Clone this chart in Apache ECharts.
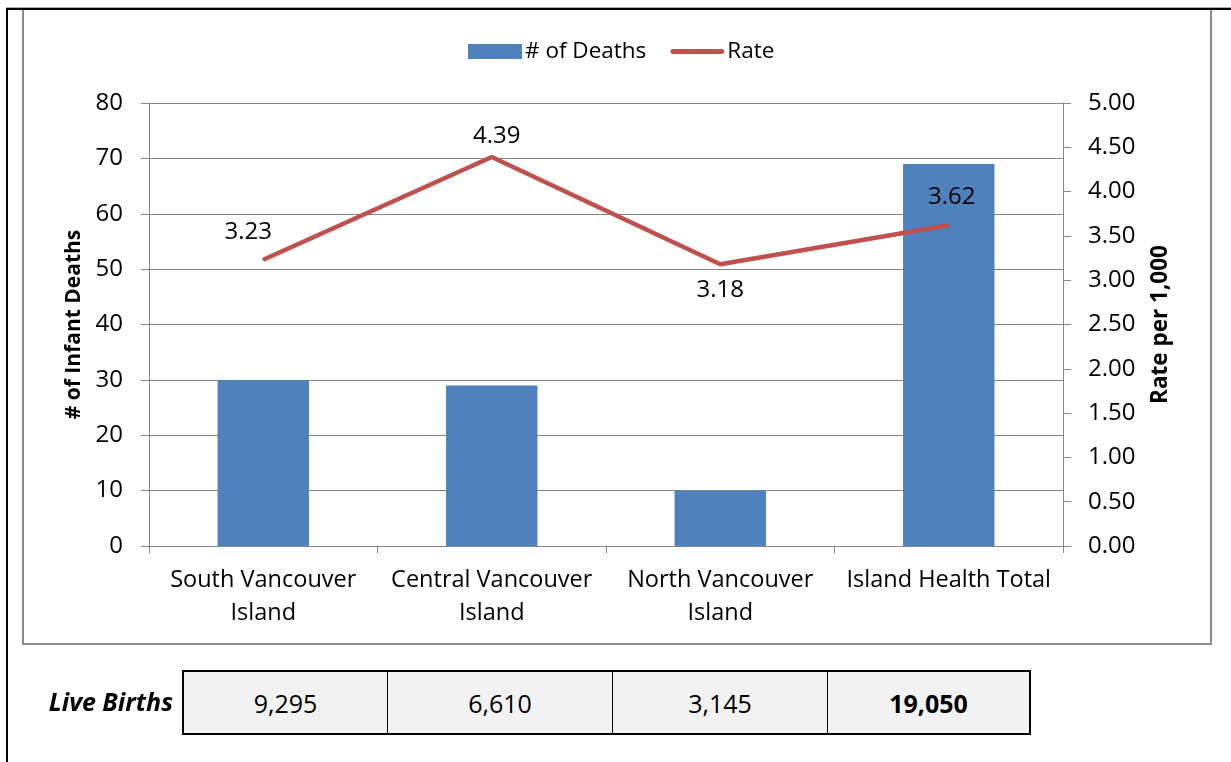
<!DOCTYPE html>
<html>
<head>
<meta charset="utf-8">
<script src="https://cdn.jsdelivr.net/npm/echarts@6/dist/echarts.min.js"></script>
<style>
  html, body { margin: 0; padding: 0; background: #fff; }
  body { width: 1231px; height: 762px; position: relative; overflow: hidden; font-family: 'Open Sans', sans-serif; }
  .line-top { position: absolute; left: 6px; top: 8px; width: 1225px; height: 2px; background: #000; }
  .line-top-gray { position: absolute; left: 6px; top: 7px; width: 1225px; height: 1px; background: #aaa; }
  .line-left { position: absolute; left: 6px; top: 8px; width: 2px; height: 754px; background: #000; }
  .chart-box { position: absolute; left: 22px; top: 10px; width: 1186px; height: 633px; border: 2px solid #8c8c8c; border-top: none; }
  #chart { position: absolute; left: 0; top: 0; width: 1231px; height: 762px; }
  .births-label { position: absolute; left: 10px; top: 684px; width: 163px; text-align: right; font-weight: bold; font-style: italic; font-size: 25px; line-height: 34px; }
  table.births { position: absolute; left: 182px; top: 670px; border-collapse: collapse; }
  table.births td { height: 61px; background: #f2f2f2; border: 1.5px solid #000; text-align: center; font-size: 25px; padding: 0; }
  table.births tr td { border-top: 2.5px solid #000; border-bottom: 2.5px solid #000; }
  table.births td:first-child { border-left: 2.5px solid #000; }
  table.births td:last-child { border-right: 2.5px solid #000; font-weight: bold; }
</style>
</head>
<body>
<div class="line-top-gray"></div>
<div class="line-top"></div>
<div class="line-left"></div>
<div class="chart-box"></div>
<div id="chart"></div>
<div class="births-label">Live Births</div>
<table class="births"><tr id="births_row"></tr></table>

<script>
var regions = ['South Vancouver\nIsland', 'Central Vancouver\nIsland', 'North Vancouver\nIsland', 'Island Health Total']
var deaths = [30, 29, 10, 69]
var rates = [3.23, 4.39, 3.18, 3.62]
var liveBirths = ['9,295', '6,610', '3,145', '19,050']
var cellWidths = [203, 224, 214, 201]

// label nudges so the numbers sit where the original put them
var labelOffsets = [[-15, -28], [5, -21], [0, 26], [3, -28]]

var FONT = 'Open Sans'
var GRID_GRAY = '#868686'

// live births row under the chart
var row = document.getElementById('births_row')
liveBirths.forEach(function(v, i) {
  var td = document.createElement('td')
  td.style.width = cellWidths[i] + 'px'
  td.textContent = v
  row.appendChild(td)
})

var myChart = echarts.init(document.getElementById('chart'), null, { renderer: 'canvas' })

var rateData = rates.map(function(r, i) {
  return {
    value: r,
    label: { offset: labelOffsets[i] }
  }
})

var option = {
  animation: false,
  textStyle: { fontFamily: FONT },
  legend: {
    left: 463,
    top: 35,
    itemWidth: 54,
    itemHeight: 15,
    itemGap: 24,
    textStyle: { fontFamily: FONT, fontSize: 22.5, color: '#000', padding: [0, 0, 0, -2] },
    data: [
      { name: '# of Deaths', icon: 'rect' },
      { name: 'Rate', icon: 'path://M2.5,0 L53.5,0 A2.5,2.5 0 0 1 53.5,5 L2.5,5 A2.5,2.5 0 0 1 2.5,0 Z' }
    ]
  },
  grid: {
    left: 149,
    right: 168,
    top: 103,
    bottom: 216
  },
  xAxis: {
    type: 'category',
    data: regions,
    axisLine: { lineStyle: { color: GRID_GRAY, width: 1 }},
    axisTick: { show: true, length: 7, lineStyle: { color: GRID_GRAY }},
    axisLabel: {
      color: '#000',
      fontFamily: FONT,
      fontSize: 23.5,
      lineHeight: 33,
      margin: 18,
      interval: 0
    }
  },
  yAxis: [
    {
      type: 'value',
      name: '# of Infant Deaths',
      nameLocation: 'middle',
      nameGap: 62,
      nameTextStyle: { fontFamily: FONT, fontSize: 21, fontWeight: 'bold', color: '#000' },
      min: 0,
      max: 80,
      interval: 10,
      axisLine: { show: true, lineStyle: { color: GRID_GRAY }},
      axisTick: { show: true, length: 8, lineStyle: { color: GRID_GRAY }},
      axisLabel: { color: '#000', fontFamily: FONT, fontSize: 24, margin: 26 },
      splitLine: { show: true, lineStyle: { color: GRID_GRAY, width: 1 }}
    },
    {
      type: 'value',
      name: 'Rate per 1,000',
      nameLocation: 'middle',
      nameGap: 86,
      nameRotate: 90,
      nameTextStyle: { fontFamily: FONT, fontSize: 22.5, fontWeight: 'bold', color: '#000' },
      position: 'right',
      min: 0,
      max: 5,
      interval: 0.5,
      axisLine: { show: true, lineStyle: { color: GRID_GRAY }},
      axisTick: { show: true, length: 8, lineStyle: { color: GRID_GRAY }},
      axisLabel: {
        color: '#000',
        fontFamily: FONT,
        fontSize: 24,
        margin: 25,
        formatter: function(v) { return v.toFixed(2) }
      },
      splitLine: { show: false }
    }
  ],
  series: [
    {
      name: '# of Deaths',
      type: 'bar',
      yAxisIndex: 0,
      barWidth: '40%',
      itemStyle: { color: '#4f81bd' },
      data: deaths
    },
    {
      name: 'Rate',
      type: 'line',
      yAxisIndex: 1,
      symbol: 'circle',
      symbolSize: 2,
      itemStyle: { color: '#c0504d' },
      lineStyle: { color: '#c0504d', width: 4.5 },
      label: {
        show: true,
        position: 'inside',
        color: '#000',
        fontFamily: FONT,
        fontSize: 24,
        formatter: function(p) { return p.value.toFixed(2) }
      },
      data: rateData
    }
  ]
}

myChart.setOption(option)
window.addEventListener('resize', function() {
  myChart.resize()
})
</script>
</body>
</html>
